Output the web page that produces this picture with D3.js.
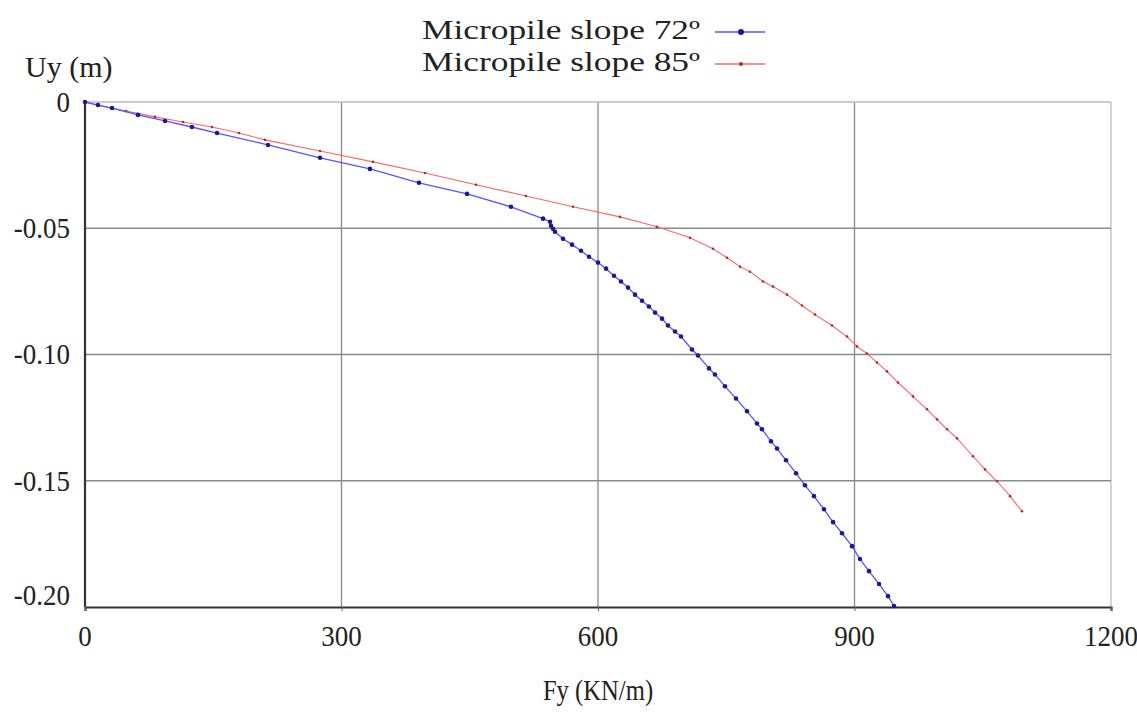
<!DOCTYPE html>
<html lang="en">
<head>
<meta charset="UTF-8">
<title>Micropile slope</title>
<script src="https://d3js.org/d3.v7.min.js"></script>
<style>
  body { margin: 0; background: #fff; }
  svg text { font-family: "Liberation Serif", "Times New Roman", Times, serif; }
</style>
</head>
<body>
<div id="chart"></div>
<script>
const width = 1137;
const height = 713;

// Fy (KN/m) and Uy (m)
const fy72 = [0, 15.2, 31.6, 62, 93.6, 125.1, 154.4, 214, 274.9, 333.3, 390.6, 446.8, 498.2, 535.7,
  543.9, 545, 547.4, 549.7, 559.1, 569.6, 580.1, 589.5, 600, 609.4, 618.7, 626.9, 635.1, 643.3,
  651.5, 659.6, 666.7, 674.9, 681.9, 690.1, 697.1, 709.9, 717, 729.8, 736.8, 748.5, 761.4,
  774.3, 786, 791.8, 802.3, 809.4, 819.9, 831.6, 842.1, 852.6, 864.3, 874.9, 885.4, 897.1,
  906.4, 917, 928.7, 939.2, 946.2];
const uy72 = [0, -0.0012, -0.0024, -0.0051, -0.0075, -0.0099, -0.0123, -0.017, -0.0221, -0.0265,
  -0.032, -0.0364, -0.0415, -0.0462, -0.0474, -0.049, -0.0502, -0.0514, -0.0542, -0.0565,
  -0.0589, -0.0613, -0.0636, -0.066, -0.0688, -0.0711, -0.0735, -0.0763, -0.0787, -0.081,
  -0.0834, -0.0858, -0.0885, -0.0909, -0.0929, -0.098, -0.1004, -0.1055, -0.1079, -0.1126,
  -0.1174, -0.1225, -0.1273, -0.1296, -0.1344, -0.1372, -0.1419, -0.147, -0.1518, -0.1561,
  -0.1613, -0.1664, -0.1708, -0.1759, -0.181, -0.1858, -0.1909, -0.1957, -0.1996];

const fy85 = [0, 14, 48, 81.9, 114.6, 148.5, 180.1, 210.5, 274.9, 336.8, 397.7, 457.3, 515.8,
  570.8, 625.7, 669, 707.6, 734.5, 750.9, 766.1, 777.8, 793, 804.7, 821.1, 838.6, 853.8,
  873.7, 891.2, 902.9, 914.6, 926.3, 938, 950.9, 968.4, 984.8, 996.5, 1008.2, 1019.9,
  1038.6, 1052.6, 1066.7, 1081.9, 1095.9];
const uy85 = [0, -0.0012, -0.0036, -0.0059, -0.0079, -0.0099, -0.0123, -0.015, -0.0194, -0.0237,
  -0.0281, -0.0328, -0.0372, -0.0415, -0.0455, -0.0494, -0.0538, -0.0581, -0.0617, -0.0652,
  -0.0672, -0.0711, -0.0731, -0.0763, -0.0806, -0.0842, -0.0885, -0.0929, -0.0968, -0.0996,
  -0.1032, -0.1067, -0.1111, -0.1166, -0.1217, -0.1257, -0.1296, -0.1332, -0.1403, -0.1455,
  -0.1502, -0.1561, -0.1621];

const xTicks = [0, 300, 600, 900, 1200];
const yTicks = [0, -0.05, -0.10, -0.15, -0.20];
const yTickLabels = ["0", "-0.05", "-0.10", "-0.15", "-0.20"];
const seriesNames = ["Micropile slope 72º", "Micropile slope 85º"];

const series = [
  { name: seriesNames[0], pts: fy72.map((d, i) => [d, uy72[i]]), line: "#5555ff", dot: "#1a1a8a", r: 2.3, w: 1.3 },
  { name: seriesNames[1], pts: fy85.map((d, i) => [d, uy85[i]]), line: "#f46a6a", dot: "#b42a2a", r: 1.3, w: 1.1 }
];

const x = d3.scaleLinear().domain([0, 1200]).range([85, 1111]);
const y = d3.scaleLinear().domain([-0.2, 0]).range([607, 102]);

const svg = d3.select("#chart").append("svg")
  .attr("width", width)
  .attr("height", height);

// grid
svg.append("g")
  .selectAll("line")
  .data(xTicks.slice(1))
  .enter().append("line")
  .attr("x1", d => x(d)).attr("x2", d => x(d))
  .attr("y1", y(0)).attr("y2", y(-0.2))
  .attr("stroke", d => d === 1200 ? "#bcbcbc" : "#8a8a8a")
  .attr("stroke-width", 1.3);

svg.append("g")
  .selectAll("line")
  .data(yTicks.slice(0, 4))
  .enter().append("line")
  .attr("x1", x(0)).attr("x2", x(1200))
  .attr("y1", d => y(d)).attr("y2", d => y(d))
  .attr("stroke", d => d === 0 ? "#bcbcbc" : "#8a8a8a")
  .attr("stroke-width", 1.3);

// axes lines (left and bottom, dark)
const xAxis = d3.axisBottom(x).tickValues(xTicks).tickSize(4).tickFormat("");
svg.append("g")
  .attr("transform", `translate(0,${y(-0.2)})`)
  .call(xAxis)
  .call(g => g.select(".domain").attr("stroke", "#333").attr("stroke-width", 2.2))
  .call(g => g.selectAll(".tick line").attr("stroke", "#666"));

svg.append("line")
  .attr("x1", x(0)).attr("x2", x(0))
  .attr("y1", y(0)).attr("y2", y(-0.2))
  .attr("stroke", "#333").attr("stroke-width", 2.2);

// tick labels, a little narrow like the original
const sx = 0.93;
svg.append("g")
  .selectAll("text")
  .data(xTicks)
  .enter().append("text")
  .attr("x", d => x(d))
  .attr("y", 646)
  .attr("text-anchor", "middle")
  .attr("font-size", 29)
  .attr("fill", "#222")
  .attr("transform", d => `translate(${x(d)},0) scale(${sx},1) translate(${-x(d)},0)`)
  .text(d => d);

svg.append("g")
  .selectAll("text")
  .data(yTicks)
  .enter().append("text")
  .attr("x", 70)
  .attr("y", (d, i) => y(d) + (i === 4 ? -2 : 10))
  .attr("text-anchor", "end")
  .attr("font-size", 29)
  .attr("fill", "#222")
  .attr("transform", `translate(70,0) scale(${sx},1) translate(-70,0)`)
  .text((d, i) => yTickLabels[i]);

// axis titles
svg.append("text")
  .attr("x", 598).attr("y", 700)
  .attr("text-anchor", "middle")
  .attr("font-size", 29)
  .attr("fill", "#222")
  .attr("transform", `translate(598,0) scale(0.85,1) translate(-598,0)`)
  .text("Fy (KN/m)");

svg.append("text")
  .attr("x", 25).attr("y", 77)
  .attr("font-size", 30)
  .attr("fill", "#222")
  .text("Uy (m)");

// series
const line = d3.line().x(d => x(d[0])).y(d => y(d[1]));

series.slice().reverse().forEach(s => {
  svg.append("path")
    .datum(s.pts)
    .attr("fill", "none")
    .attr("stroke", s.line)
    .attr("stroke-width", s.w)
    .attr("d", line);
  svg.append("g")
    .selectAll("circle")
    .data(s.pts)
    .enter().append("circle")
    .attr("cx", d => x(d[0]))
    .attr("cy", d => y(d[1]))
    .attr("r", s.r)
    .attr("fill", s.dot);
});

// legend
const legend = svg.append("g");
series.forEach((s, i) => {
  const ly = 39 + i * 32;
  legend.append("text")
    .attr("x", 422).attr("y", ly)
    .attr("font-size", 27)
    .attr("fill", "#222")
    .attr("textLength", 278)
    .attr("lengthAdjust", "spacingAndGlyphs")
    .text(s.name);
  legend.append("line")
    .attr("x1", 715).attr("x2", 765)
    .attr("y1", ly - 7).attr("y2", ly - 7)
    .attr("stroke", s.line).attr("stroke-width", 1.6);
  legend.append("circle")
    .attr("cx", 741).attr("cy", ly - 7)
    .attr("r", i === 0 ? 3 : 2)
    .attr("fill", s.dot);
});
</script>
</body>
</html>
